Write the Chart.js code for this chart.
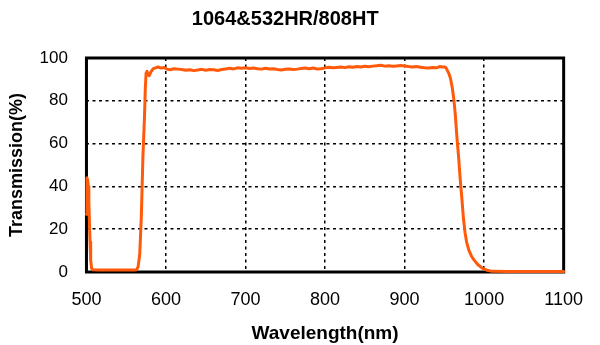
<!DOCTYPE html>
<html>
<head>
<meta charset="utf-8">
<script src="https://cdn.jsdelivr.net/npm/chart.js@4.4.1/dist/chart.umd.min.js"></script>
<style>
  html, body { margin: 0; padding: 0; background: #fff; }
  #wrap { width: 600px; height: 345px; position: relative; }
</style>
</head>
<body>
<div id="wrap"><canvas id="specChart"></canvas></div>
<script>
// 1064&532HR/808HT 투과율 곡선
const wavelengths = [
  500, 500.6, 501.5, 502.3, 503, 504, 504.5, 505.3, 506.5, 508, 515, 530, 545, 560,
  563, 565, 567, 569, 571, 573, 574, 575, 576, 577, 579, 581, 584, 587, 590, 594, 598,
  601, 605, 610, 615, 620, 625, 630, 635, 640, 645, 650, 655, 660, 665, 670, 675, 680,
  685, 690, 695, 700, 705, 710, 715, 720, 725, 730, 735, 740, 745, 750, 755, 760, 765,
  770, 775, 780, 785, 790, 795, 800, 805, 810, 815, 820, 825, 830, 835, 840, 845, 850,
  855, 860, 865, 870, 875, 880, 885, 890, 895, 900, 905, 910, 915, 920, 925, 930, 935,
  940, 944, 948, 950, 952, 954, 956, 958, 960, 962, 964, 966, 968, 970, 972, 974, 976,
  978, 981, 984, 987, 992, 998, 1004, 1010, 1030, 1060, 1100
];
const transmission = [
  27, 44, 43, 40, 33, 20, 14, 5.6, 1.7, 1, 0.9, 0.9, 0.9, 0.9,
  1, 2.5, 8.5, 26, 54, 73, 86, 93, 93.8, 92.5, 91.8, 93.5, 95, 95.4, 95.8, 95.3, 95.6,
  94.8, 94.5, 95, 94.8, 94.6, 94.3, 94.5, 94.1, 94.4, 94.7, 94.3, 94.6, 94.5, 94.2, 94.6, 94.9, 95.2,
  94.9, 95.4, 95.2, 95.4, 95.1, 95.3, 95, 94.8, 95.2, 94.9, 95, 94.6, 94.4, 94.7, 94.9, 94.6, 94.8,
  95.1, 95.3, 95, 95.3, 94.9, 95, 95.4, 95.7, 95.4, 95.6, 95.8, 95.5, 95.9, 95.7, 96, 95.8, 96.1,
  95.9, 96.2, 96.4, 96.6, 96.2, 96.4, 96.1, 96.3, 96.5, 96.3, 96, 95.8, 96, 95.7, 95.4, 95.3, 95.6,
  95.4, 96, 95.8, 95.8, 95.5, 94, 92.5, 90, 86, 80.5, 72.5, 62, 53.5, 43, 34.5, 25, 18.5,
  14, 10, 7.5, 5.8, 3.5, 1.7, 0.8, 0.3, 0.2, 0.2, 0.2
];
const xTickValues = [500, 600, 700, 800, 900, 1000, 1100];
const yTickValues = [0, 20, 40, 60, 80, 100];

const FONT = '"Liberation Sans", Arial, sans-serif';

// 플롯 영역 테두리 (검은 사각형)
const framePlugin = {
  id: 'frame',
  beforeDatasetsDraw(chart) {
    const { ctx, chartArea: a } = chart;
    ctx.save();
    ctx.strokeStyle = '#000';
    ctx.lineWidth = 3;
    ctx.strokeRect(a.left, a.top, a.right - a.left, a.bottom - a.top);
    ctx.restore();
  }
};

const ctx = document.getElementById('specChart').getContext('2d');
new Chart(ctx, {
  type: 'line',
  data: {
    datasets: [{
      data: wavelengths.map((w, i) => ({ x: w, y: transmission[i] })),
      borderColor: '#ff5a0a',
      borderWidth: 3,
      borderJoinStyle: 'round',
      borderCapStyle: 'round',
      pointRadius: 0,
      tension: 0,
      fill: false,
      clip: 4
    }]
  },
  options: {
    responsive: true,
    maintainAspectRatio: false,
    animation: false,
    layout: { padding: { left: 6, right: 35.5, top: 0, bottom: 0 } },
    plugins: {
      legend: { display: false },
      tooltip: { enabled: false },
      title: {
        display: true,
        text: '1064&532HR/808HT',
        color: '#000',
        font: { family: FONT, size: 20, weight: 'bold' },
        padding: { top: 7, bottom: 27 }
      }
    },
    scales: {
      x: {
        type: 'linear',
        min: xTickValues[0],
        max: xTickValues[xTickValues.length - 1],
        afterBuildTicks: s => { s.ticks = xTickValues.map(v => ({ value: v })); },
        border: { display: false, dash: [3, 3.5] },
        grid: { color: '#000', lineWidth: 1.5, drawTicks: false },
        ticks: {
          color: '#000', padding: 17, maxRotation: 0,
          font: { family: FONT, size: 18 },
          callback: v => String(v)
        },
        title: {
          display: true,
          text: 'Wavelength(nm)',
          color: '#000',
          font: { family: FONT, size: 19, weight: 'bold' },
          padding: { top: -5.4, bottom: 0 }
        }
      },
      y: {
        min: yTickValues[0],
        max: yTickValues[yTickValues.length - 1],
        afterBuildTicks: s => { s.ticks = yTickValues.map(v => ({ value: v })); },
        border: { display: false, dash: [3, 3.5] },
        grid: { color: '#000', lineWidth: 1.5, drawTicks: false },
        ticks: {
          color: '#000', padding: 18.5,
          font: { family: FONT, size: 17 },
          callback: v => String(v)
        },
        title: {
          display: true,
          text: 'Transmission(%)',
          color: '#000',
          font: { family: FONT, size: 18, weight: 'bold' },
          padding: { top: 0.5, bottom: -7 }
        }
      }
    }
  },
  plugins: [framePlugin]
});
</script>
</body>
</html>
